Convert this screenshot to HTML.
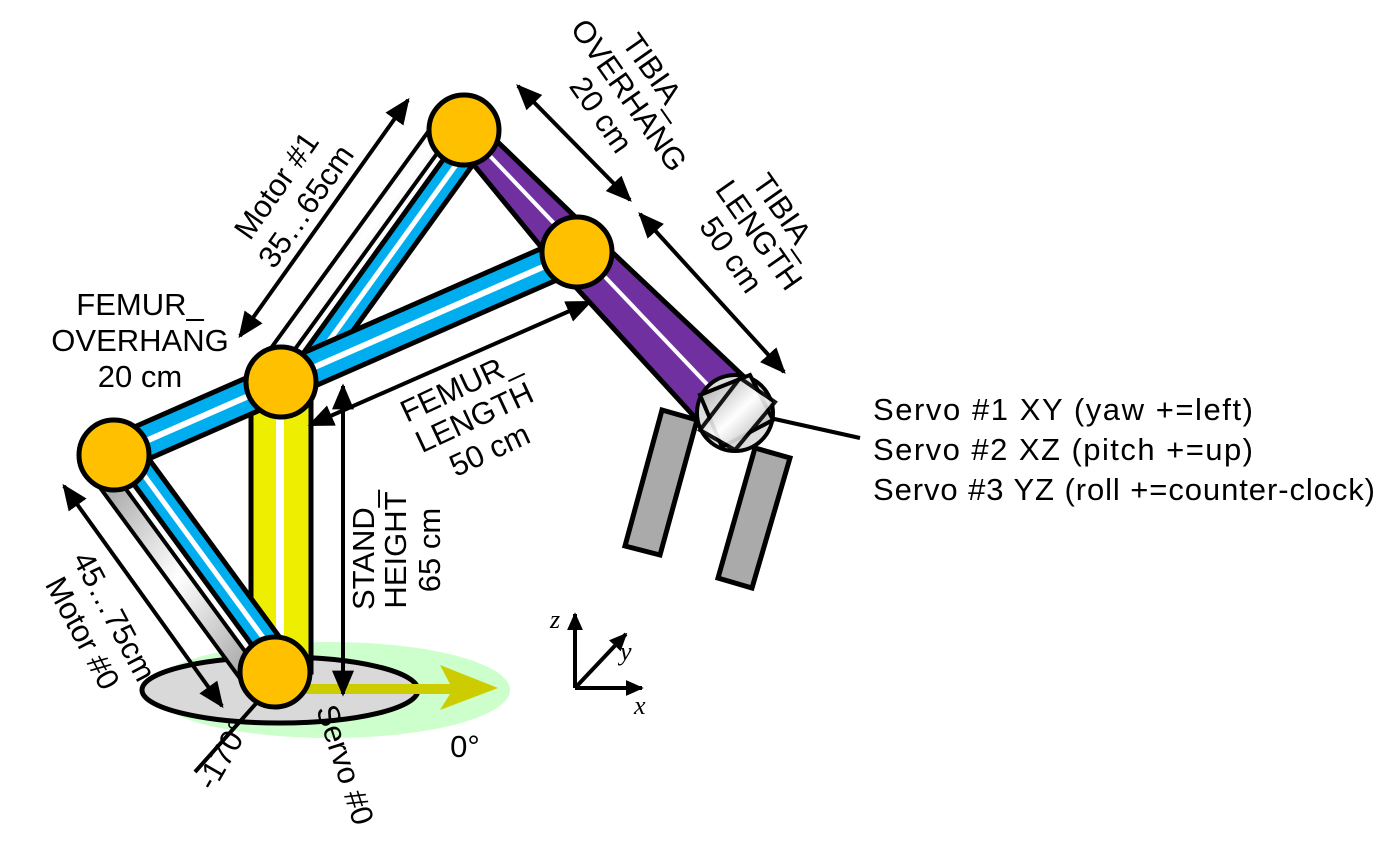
<!DOCTYPE html>
<html><head><meta charset="utf-8"><style>
html,body{margin:0;padding:0;background:#fff;}
svg{display:block;font-family:"Liberation Sans",Arial,sans-serif;}
</style></head><body>
<svg width="1396" height="858" viewBox="0 0 1396 858">
<defs>
<marker id="ah" viewBox="0 0 10 10" refX="9" refY="5" markerUnits="userSpaceOnUse" markerWidth="26" markerHeight="22" orient="auto-start-reverse" preserveAspectRatio="none"><path d="M0,0 L10,5 L0,10 z" fill="#000"/></marker>
<marker id="as" viewBox="0 0 10 10" refX="9" refY="5" markerUnits="userSpaceOnUse" markerWidth="18" markerHeight="16" orient="auto" preserveAspectRatio="none"><path d="M0,0 L10,5 L0,10 z" fill="#000"/></marker>
<linearGradient id="gg" x1="0" y1="0" x2="1" y2="1"><stop offset="0" stop-color="#999"/><stop offset="0.5" stop-color="#fff"/><stop offset="1" stop-color="#999"/></linearGradient>
</defs>

<ellipse cx="330" cy="690" rx="180" ry="48" fill="#ccffcc"/>
<ellipse cx="280" cy="690" rx="138" ry="33" fill="#d9d9d9" stroke="#000" stroke-width="5"/>
<polygon points="300,684 450,684 440,665 498,688 440,710 450,694 300,694" fill="#cccc00"/>
<line x1="195" y1="772" x2="268" y2="690" stroke="#000" stroke-width="4"/>

<g>
<rect x="251" y="382" width="60" height="290" fill="#eeee00" stroke="#000" stroke-width="5"/>
<rect x="276" y="382" width="8" height="290" fill="#fff"/>
</g>

<g>
<line x1="98" y1="468" x2="258" y2="686" stroke="#000" stroke-width="24"/>
<line x1="98" y1="468" x2="258" y2="686" stroke="url(#gg)" stroke-width="16"/>
<line x1="124" y1="448" x2="284" y2="666" stroke="#000" stroke-width="32"/>
<line x1="124" y1="448" x2="284" y2="666" stroke="#00aeef" stroke-width="22"/>
<line x1="124" y1="448" x2="284" y2="666" stroke="#fff" stroke-width="5"/>
</g>
<g>
<line x1="266" y1="372" x2="449" y2="120" stroke="#000" stroke-width="24"/>
<line x1="266" y1="372" x2="449" y2="120" stroke="url(#gg)" stroke-width="16"/>
<line x1="292" y1="392" x2="474" y2="140" stroke="#000" stroke-width="32"/>
<line x1="292" y1="392" x2="474" y2="140" stroke="#00aeef" stroke-width="22"/>
<line x1="292" y1="392" x2="474" y2="140" stroke="#fff" stroke-width="5"/>
</g>
<g>
<line x1="114" y1="455" x2="577" y2="252" stroke="#000" stroke-width="40"/>
<line x1="114" y1="455" x2="577" y2="252" stroke="#00aeef" stroke-width="30"/>
<line x1="114" y1="455" x2="577" y2="252" stroke="#fff" stroke-width="6"/>
</g>
<g>
<polygon points="455,142 475,120 595,236 760,392 712,436 560,270" fill="#7030a0" stroke="#000" stroke-width="5"/>
<line x1="470" y1="135" x2="722" y2="400" stroke="#fff" stroke-width="4"/>
</g>

<g>
<polygon points="662,410 697,420 660,555 625,546" fill="#aaa" stroke="#000" stroke-width="5"/>
<polygon points="755,448 790,458 752,588 718,578" fill="#aaa" stroke="#000" stroke-width="5"/>
<line x1="770" y1="418" x2="860" y2="438" stroke="#000" stroke-width="4"/>
<circle cx="735" cy="413" r="38" fill="#ddd" stroke="#000" stroke-width="4"/>
<polygon points="700,395 750,375 773,420 722,447" fill="url(#gg)" stroke="#000" stroke-width="4"/>
<polygon points="700,430 740,378 775,402 735,450" fill="url(#gg)" stroke="#000" stroke-width="4" opacity="0.9"/>
</g>

<circle cx="275" cy="672" r="35" fill="#ffc000" stroke="#000" stroke-width="5"/>
<circle cx="281" cy="382" r="35" fill="#ffc000" stroke="#000" stroke-width="5"/>
<circle cx="114" cy="455" r="35" fill="#ffc000" stroke="#000" stroke-width="5"/>
<circle cx="464" cy="130" r="35" fill="#ffc000" stroke="#000" stroke-width="5"/>
<circle cx="577" cy="252" r="35" fill="#ffc000" stroke="#000" stroke-width="5"/>

<g stroke="#000" stroke-width="4" marker-start="url(#ah)" marker-end="url(#ah)">
<line x1="408" y1="100" x2="240" y2="336"/>
<line x1="64" y1="486" x2="222" y2="706"/>
<line x1="518" y1="86" x2="630" y2="200"/>
<line x1="640" y1="214" x2="784" y2="372"/>
<line x1="310" y1="425" x2="590" y2="302"/>
<line x1="343" y1="386" x2="343" y2="694"/>
</g>

<g stroke="#000" stroke-width="4">
<line x1="575" y1="688" x2="575" y2="614" marker-end="url(#as)"/>
<line x1="575" y1="688" x2="642" y2="688" marker-end="url(#as)"/>
<line x1="575" y1="688" x2="626" y2="634" marker-end="url(#as)"/>
</g>
<g font-family="Liberation Serif,serif" font-style="italic" font-size="26">
<text x="550" y="628">z</text>
<text x="620" y="660">y</text>
<text x="634" y="714">x</text>
</g>

<g font-size="31" fill="#000" text-anchor="middle">
<g transform="translate(290,195) rotate(-55)"><text y="-6">Motor #1</text><text y="30">35…65cm</text></g>
<g transform="translate(622,100) rotate(55)"><text y="-32">TIBIA_</text><text y="2">OVERHANG</text><text y="36">20 cm</text></g>
<g transform="translate(752,240) rotate(55)"><text y="-32">TIBIA_</text><text y="2">LENGTH</text><text y="36">50 cm</text></g>
<g transform="translate(140,340)"><text y="-25">FEMUR_</text><text y="11">OVERHANG</text><text y="47">20 cm</text></g>
<g transform="translate(478,425) rotate(-25)"><text y="-32">FEMUR_</text><text y="2">LENGTH</text><text y="38">50 cm</text></g>
<g transform="translate(396,550) rotate(-90)"><text y="-22">STAND_</text><text y="10">HEIGHT</text><text y="44">65 cm</text></g>
<g transform="translate(98,625) rotate(62)"><text y="-8">45…75cm</text><text y="28">Motor #0</text></g>
<text transform="translate(232,760) rotate(-60)">-170°</text>
<text transform="translate(335,768) rotate(72)">Servo #0</text>
<text x="465" y="757">0°</text>
</g>
<g font-size="31" fill="#000">
<text x="873" y="420" textLength="380">Servo #1 XY (yaw +=left)</text>
<text x="873" y="460" textLength="380">Servo #2 XZ (pitch +=up)</text>
<text x="873" y="500" textLength="502">Servo #3 YZ (roll +=counter-clock)</text>
</g>
</svg>
</body></html>
